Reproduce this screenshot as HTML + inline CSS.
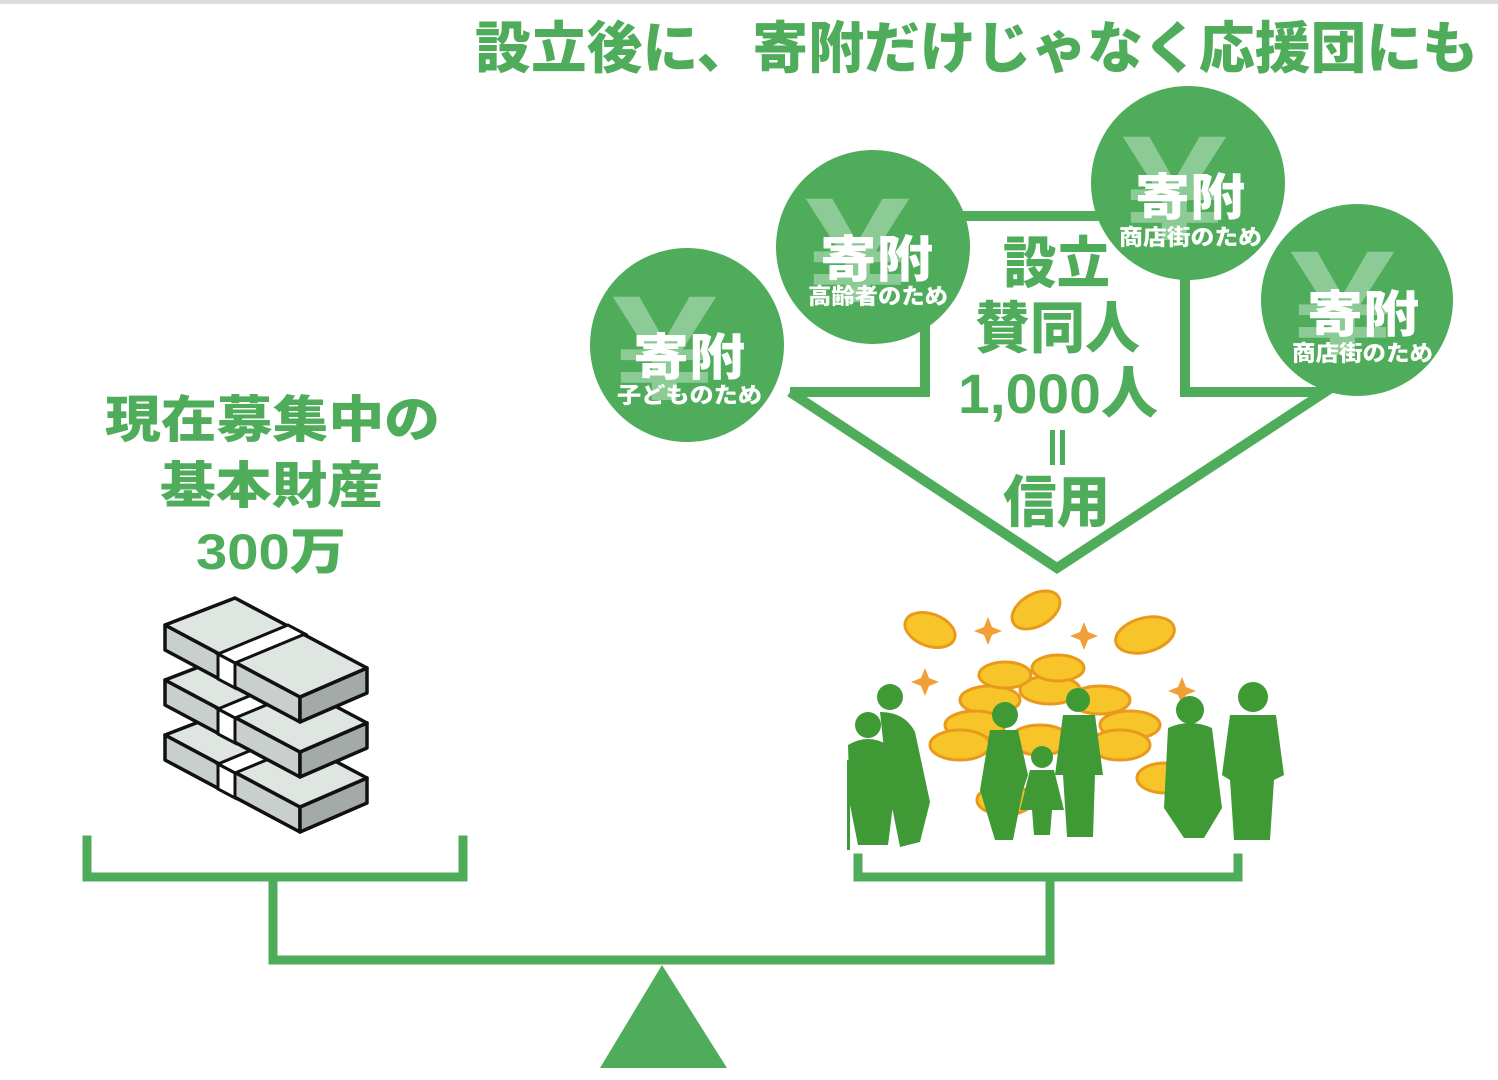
<!DOCTYPE html>
<html><head><meta charset="utf-8"><style>
html,body{margin:0;padding:0;background:#fff;}
svg{display:block;}
text{font-family:"Liberation Sans","Noto Sans CJK JP",sans-serif;font-weight:900;}
</style></head><body>
<svg width="1498" height="1080" viewBox="0 0 1498 1080" xmlns="http://www.w3.org/2000/svg">
<rect x="0" y="0" width="1498" height="4" fill="#dcdcdc"/>
<g fill="#4fac5b">
<text x="475" y="68" font-size="56" textLength="1003" lengthAdjust="spacingAndGlyphs">設立後に、寄附だけじゃなく応援団にも</text>
</g>
<!-- arrow outline -->
<polyline points="790,392 925,392 925,216 1185,216 1185,392 1325,392 1057,568 790,392" fill="none" stroke="#4fac5b" stroke-width="10" stroke-linejoin="miter"/>
<!-- center text -->
<g fill="#4fac5b">
<text x="1003" y="283" font-size="56" textLength="107" lengthAdjust="spacingAndGlyphs">設立</text>
<text x="975" y="348" font-size="56" textLength="165" lengthAdjust="spacingAndGlyphs">賛同人</text>
<text x="958" y="413" font-size="56" textLength="200" lengthAdjust="spacingAndGlyphs">1,000人</text>
<rect x="1050" y="430" width="5" height="35"/><rect x="1060" y="430" width="5" height="35"/>
<text x="1003" y="522" font-size="56" textLength="107" lengthAdjust="spacingAndGlyphs">信用</text>
</g>
<!-- circles -->
<g>
<circle cx="687" cy="345" r="97" fill="#4fac5b"/>
<circle cx="873" cy="247" r="97" fill="#4fac5b"/>
<circle cx="1188" cy="183" r="97" fill="#4fac5b"/>
<circle cx="1357" cy="300" r="96" fill="#4fac5b"/>
</g>
<g fill="#8ccb95" font-size="150">
<text x="612" y="400" textLength="105" lengthAdjust="spacingAndGlyphs">¥</text>
<text x="805" y="302" textLength="105" lengthAdjust="spacingAndGlyphs">¥</text>
<text x="1122" y="240" textLength="105" lengthAdjust="spacingAndGlyphs">¥</text>
<text x="1290" y="355" textLength="105" lengthAdjust="spacingAndGlyphs">¥</text>
</g>
<g fill="#fff">
<text x="633" y="375" font-size="50" textLength="112" lengthAdjust="spacingAndGlyphs">寄附</text>
<text x="617" y="403" font-size="22" textLength="145" lengthAdjust="spacingAndGlyphs">子どものため</text>
<text x="820" y="277" font-size="50" textLength="113" lengthAdjust="spacingAndGlyphs">寄附</text>
<text x="808" y="304" font-size="22" textLength="140" lengthAdjust="spacingAndGlyphs">高齢者のため</text>
<text x="1135" y="215" font-size="50" textLength="110" lengthAdjust="spacingAndGlyphs">寄附</text>
<text x="1119" y="245" font-size="22" textLength="143" lengthAdjust="spacingAndGlyphs">商店街のため</text>
<text x="1307" y="332" font-size="50" textLength="112" lengthAdjust="spacingAndGlyphs">寄附</text>
<text x="1292" y="361" font-size="22" textLength="141" lengthAdjust="spacingAndGlyphs">商店街のため</text>
</g>
<!-- left text -->
<g fill="#4fac5b">
<text x="105" y="437" font-size="50" textLength="335" lengthAdjust="spacingAndGlyphs">現在募集中の</text>
<text x="160" y="503" font-size="50" textLength="223" lengthAdjust="spacingAndGlyphs">基本財産</text>
<text x="196" y="569" font-size="50" textLength="150" lengthAdjust="spacingAndGlyphs">300万</text>
</g>
<!-- money stacks -->
<defs>
<g id="brick">
<polygon points="165,625 300,697 300,722 165,650" fill="#c9cfcc" stroke="#111" stroke-width="3.5" stroke-linejoin="round"/>
<polygon points="300,697 367,668 367,693 300,722" fill="#a4aaa7" stroke="#111" stroke-width="3.5" stroke-linejoin="round"/>
<polygon points="165,625 235,598 367,668 300,697" fill="#dfe5e1" stroke="#111" stroke-width="3.5" stroke-linejoin="round"/>
<polygon points="218,654 288,625 305,634 235,663" fill="#fff" stroke="#111" stroke-width="3"/>
<polygon points="218,654 235,663 235,688 218,679" fill="#fff" stroke="#111" stroke-width="3"/>
</g>
</defs>
<use href="#brick" transform="translate(0,110)"/>
<use href="#brick" transform="translate(0,55)"/>
<use href="#brick"/>
<!-- coins -->
<g fill="#f7c52a" stroke="#e99a1c" stroke-width="3">
<ellipse cx="930" cy="630" rx="26" ry="16" transform="rotate(20 930 630)"/>
<ellipse cx="1036" cy="610" rx="26" ry="16" transform="rotate(-30 1036 610)"/>
<ellipse cx="1145" cy="635" rx="30" ry="17" transform="rotate(-15 1145 635)"/>
<ellipse cx="990" cy="700" rx="30" ry="14"/>
<ellipse cx="1050" cy="690" rx="30" ry="14"/>
<ellipse cx="1100" cy="700" rx="30" ry="14"/>
<ellipse cx="1005" cy="675" rx="26" ry="13"/>
<ellipse cx="1058" cy="668" rx="26" ry="13"/>
<ellipse cx="975" cy="725" rx="30" ry="14"/>
<ellipse cx="1130" cy="725" rx="30" ry="14"/>
<ellipse cx="960" cy="745" rx="30" ry="15"/>
<ellipse cx="1120" cy="745" rx="30" ry="15"/>
<ellipse cx="1040" cy="740" rx="30" ry="15"/>
<ellipse cx="1165" cy="778" rx="28" ry="15"/>
<ellipse cx="1005" cy="800" rx="28" ry="15"/>
</g>
<g fill="#f0a037">
<path d="M988,617 l4,10 10,4 -10,4 -4,10 -4,-10 -10,-4 10,-4z"/>
<path d="M1084,622 l4,10 10,4 -10,4 -4,10 -4,-10 -10,-4 10,-4z"/>
<path d="M925,668 l4,10 10,4 -10,4 -4,10 -4,-10 -10,-4 10,-4z"/>
<path d="M1182,677 l4,10 10,4 -10,4 -4,10 -4,-10 -10,-4 10,-4z"/>
</g>
<!-- people -->
<g fill="#3f9a36">
<circle cx="868" cy="725" r="13"/><path d="M848,745 q20,-12 40,0 l5,60 -5,40 -30,0 -8,-40z"/>
<rect x="847" y="760" width="3" height="90"/>
<circle cx="890" cy="697" r="13"/><path d="M880,712 q25,0 35,20 l15,70 -10,40 -20,5 -12,-60z"/>
<circle cx="1005" cy="715" r="13"/><path d="M990,730 h28 l10,45 -5,15 -10,50 -18,0 -15,-50 z"/>
<circle cx="1042" cy="757" r="11"/><path d="M1030,770 h24 l10,40 -12,0 -2,25 -16,0 -2,-25 -12,0z"/>
<circle cx="1078" cy="700" r="12"/><path d="M1063,715 h32 l8,60 -8,0 -2,62 -26,0 -4,-62 -8,0z"/>
<circle cx="1190" cy="710" r="14"/><path d="M1168,728 q22,-10 44,0 l10,80 -18,30 -20,0 -20,-30z"/>
<circle cx="1253" cy="697" r="15"/><path d="M1230,715 h46 l8,60 -10,5 -4,60 -36,0 -4,-60 -8,-5z"/>
</g>
<!-- scale -->
<g fill="none" stroke="#4fac5b" stroke-width="9" stroke-linecap="square">
<polyline points="87,840 87,877 463,877 463,840"/>
<polyline points="273,877 273,960 1050,960 1050,880"/>
<polyline points="858,858 858,877 1238,877 1238,858"/>
</g>
<polygon points="662,965 600,1068 727,1068" fill="#4fac5b"/>
</svg>
</body></html>
